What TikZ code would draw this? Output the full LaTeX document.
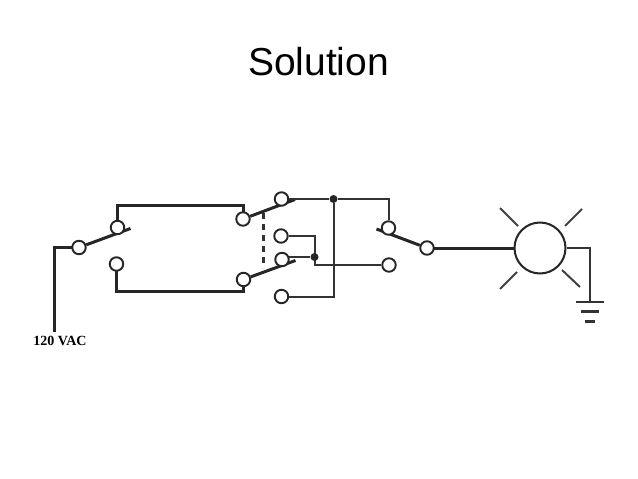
\documentclass[tikz,border=0pt]{standalone}
\usepackage{fontspec}
\setmainfont{Liberation Sans}
\newfontfamily\labelfont{Liberation Serif}
\usetikzlibrary{backgrounds}

\tikzset{
  terminal/.style={circle,draw=black!85,fill=white,line width=1.9pt,inner sep=0pt,minimum size=13.5pt},
  junction/.style={circle,fill=black!85,inner sep=0pt,minimum size=8pt},
  lamp/.style={circle,draw=black!85,fill=white,line width=2pt,inner sep=0pt,minimum size=51pt},
  heavy/.style={draw=black!85,line width=3pt,line cap=rect},
  wire/.style={draw=black!80,line width=2pt},
  ray/.style={draw=black!75,line width=2pt}
}

\begin{document}
\begin{tikzpicture}[x=1pt,y=-1pt]
    \useasboundingbox (0,0) rectangle (638,479);
    \node (title) at (318.5,62) {\fontsize{39}{39}\selectfont Solution};
    \node (supply) at (60,341) {\labelfont\bfseries\fontsize{14}{15}\selectfont 120 VAC};

    % contacts
    \foreach \name/\x/\y in {ta/79/247.5,tb/117.5/227.5,tc/116.5/264,td/243/219,te/243.5/279.5,
      tf/281.5/199,tg/281/236,th/282/259.5,ti/281.5/296.5,tj/388.5/228,tk/389/265,tl/427/248}
    {
      \node[terminal] (\name) at (\x,\y) {};
    }
    \node[lamp] (bulb) at (540,248) {};
    \node[junction] (joina) at (333.5,199) {};
    \node[junction] (joinb) at (314.5,257) {};

    \coordinate (feed) at (54,330);
    \coordinate (feedc) at (54,247.5);
    \coordinate (upa) at (117.5,205);
    \coordinate (upb) at (243,205);
    \coordinate (loa) at (116.5,291.5);
    \coordinate (lob) at (243.5,291.5);
    \coordinate (topc) at (388.5,199);
    \coordinate (midt) at (314.5,236);
    \coordinate (midb) at (314.5,265);
    \coordinate (botc) at (333.5,296.5);
    \coordinate (gndc) at (590,248);
    \coordinate (gnd) at (590,302);
    \coordinate (bladea) at (130.5,228.5);
    \coordinate (bladeb) at (295,199.5);
    \coordinate (bladec) at (295.5,260.5);
    \coordinate (blader) at (376.5,229);
    \coordinate (linka) at (263,213);
    \coordinate (linkb) at (263,268);
    \coordinate (thout) at (282,257);

    \begin{scope}[on background layer]
      \draw[heavy] (feed) -- (feedc) -- (ta);
      \draw[heavy] (tb) -- (upa) -- (upb) -- (td);
      \draw[heavy] (tc) -- (loa) -- (lob) -- (te);
      \draw[heavy,line cap=butt] (ta) -- (bladea);
      \draw[heavy,line cap=butt] (td) -- (bladeb);
      \draw[heavy,line cap=butt] (te) -- (bladec);
      \draw[heavy,line cap=butt] (tl) -- (blader);
      \draw[heavy] (tl) -- (bulb);
      \draw[wire,line width=3pt,dash pattern=on 6pt off 5pt] (linka) -- (linkb);
      \draw[wire] (tf) -- (joina) -- (topc) -- (tj);
      \draw[wire] (joina) -- (botc) -- (ti);
      \draw[wire] (tg) -- (midt) -- (midb) -- (tk);
      \draw[wire] (thout) -- (joinb);
      \draw[wire] (bulb) -- (gndc) -- (gnd);
    \end{scope}

    % light rays
    \draw[ray] (500,208) -- (518,226);
    \draw[ray] (582,209) -- (565,226);
    \draw[ray] (517,272) -- (500,289);
    \draw[ray] (562,270) -- (580,287);

    % earth
    \draw[wire] (576,302) -- (604,302);
    \draw[wire,line width=3pt] (581,311) -- (599,311);
    \draw[wire,line width=3pt] (585,321) -- (595,321);
  \end{tikzpicture}
\end{document}
